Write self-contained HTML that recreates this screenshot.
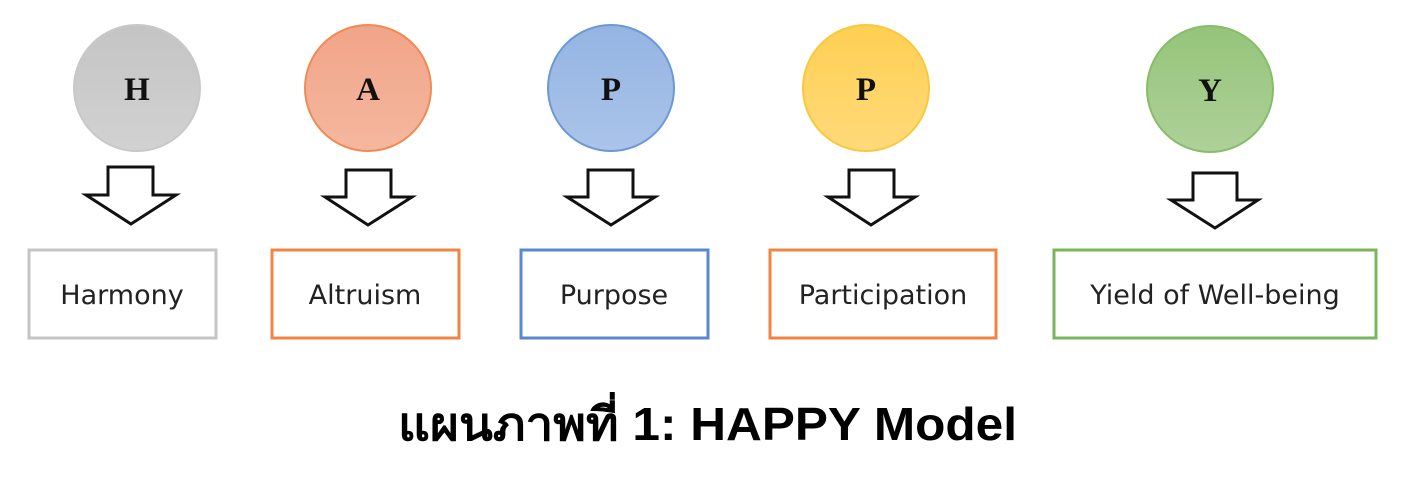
<!DOCTYPE html>
<html><head><meta charset="utf-8"><style>
body{margin:0;background:#fff;width:1414px;height:477px;overflow:hidden}
</style></head><body>
<svg width="1414" height="477" xmlns="http://www.w3.org/2000/svg">
<defs>
<linearGradient id="g1" x1="0" y1="0" x2="0" y2="1"><stop offset="0" stop-color="#c4c4c4"/><stop offset="1" stop-color="#d2d2d2"/></linearGradient>
<linearGradient id="g2" x1="0" y1="0" x2="0" y2="1"><stop offset="0" stop-color="#f1a488"/><stop offset="1" stop-color="#f4b89f"/></linearGradient>
<linearGradient id="g3" x1="0" y1="0" x2="0" y2="1"><stop offset="0" stop-color="#94b4e2"/><stop offset="1" stop-color="#aac4ea"/></linearGradient>
<linearGradient id="g4" x1="0" y1="0" x2="0" y2="1"><stop offset="0" stop-color="#fecf52"/><stop offset="1" stop-color="#ffda7a"/></linearGradient>
<linearGradient id="g5" x1="0" y1="0" x2="0" y2="1"><stop offset="0" stop-color="#95c47a"/><stop offset="1" stop-color="#aed199"/></linearGradient>
</defs>
<g font-family="Liberation Serif, serif" font-weight="bold" font-size="33" text-anchor="middle" fill="#111">
<circle cx="137" cy="88" r="63" fill="url(#g1)" stroke="#c8c8c8" stroke-width="2"/><text x="137" y="100">H</text>
<circle cx="368" cy="88" r="63" fill="url(#g2)" stroke="#ef8a55" stroke-width="2"/><text x="368" y="100">A</text>
<circle cx="611" cy="88" r="63" fill="url(#g3)" stroke="#6d98d6" stroke-width="2"/><text x="611" y="100">P</text>
<circle cx="866" cy="88" r="63" fill="url(#g4)" stroke="#f8c93e" stroke-width="2"/><text x="866" y="100">P</text>
<circle cx="1210" cy="89" r="63" fill="url(#g5)" stroke="#86bd68" stroke-width="2"/><text x="1210" y="101">Y</text>
</g>
<g fill="#fff" stroke="#111" stroke-width="3" stroke-linejoin="miter">
<polygon points="108,167 153,167 153,195 176,195 131,224 86,195 108,195"/>
<polygon points="346,170 391,170 391,197 412,197 368,225 325,197 346,197"/>
<polygon points="588,170 633,170 633,197 655,197 611,225 567,197 588,197"/>
<polygon points="849,170 894,170 894,197 915,197 871,225 828,197 849,197"/>
<polygon points="1193,173 1237,173 1237,200 1258,200 1215,228 1171,200 1193,200"/>
</g>
<g fill="#fff" stroke-width="3">
<rect x="29" y="250" width="187" height="88" stroke="#c4c4c4"/>
<rect x="272" y="250" width="187" height="88" stroke="#ee8545"/>
<rect x="521" y="250" width="187" height="88" stroke="#5b87d2"/>
<rect x="770" y="250" width="226" height="88" stroke="#ee8545"/>
<rect x="1054" y="250" width="322" height="88" stroke="#79b65a"/>
</g>
<g font-family="DejaVu Sans, Liberation Sans, sans-serif" font-size="27" text-anchor="middle" fill="#222">
<text x="122" y="304">Harmony</text>
<text x="365" y="304">Altruism</text>
<text x="614" y="304">Purpose</text>
<text x="883" y="304">Participation</text>
<text x="1215" y="304">Yield of Well-being</text>
</g>
<text x="398" y="440" textLength="619" lengthAdjust="spacingAndGlyphs" font-family="Liberation Sans, Noto Sans CJK SC, DejaVu Sans, sans-serif" font-weight="bold" font-size="46" fill="#000">แผนภาพที่ 1: HAPPY Model</text>
</svg>
</body></html>
